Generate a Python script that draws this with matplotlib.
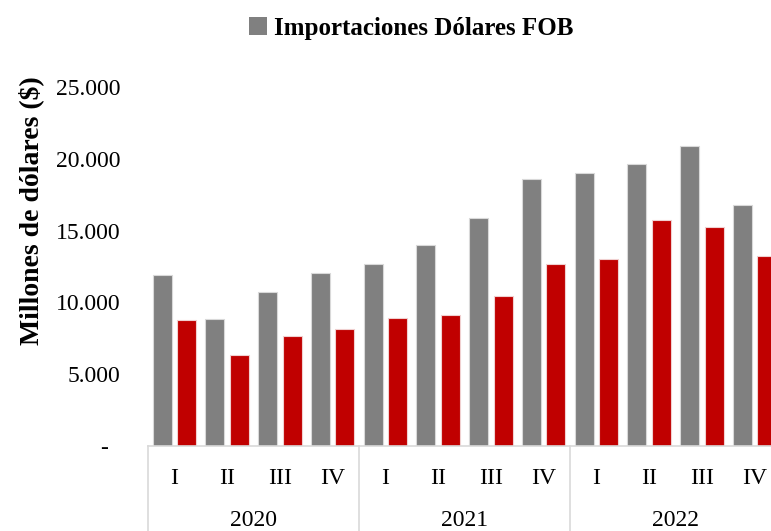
import matplotlib
matplotlib.use("Agg")
import matplotlib.pyplot as plt
from matplotlib.patches import Patch
from matplotlib.lines import Line2D
import numpy as np

years = ["2020", "2021", "2022"]
quarters = ["I", "II", "III", "IV"]
importaciones = [11880, 8850, 10690, 12040, 12660, 13990, 15890, 18590, 18990, 19620, 20910, 16780]
exportaciones = [8740, 6370, 7640, 8180, 8900, 9090, 10480, 12690, 12990, 15710, 15220, 13240]
yticks = [0, 5000, 10000, 15000, 20000, 25000]
ytick_labels = ["-  ", "5.000", "10.000", "15.000", "20.000", "25.000"]

plt.rcParams['font.family'] = ['Liberation Serif', 'DejaVu Serif']

W, H = 771, 531
fig = plt.figure(figsize=(W / 100, H / 100), dpi=100)
ax_left, ax_right, ax_bottom, ax_top = 148, 771, 446, 87
ax = fig.add_axes([ax_left / W, 1 - ax_bottom / H, (ax_right - ax_left) / W, (ax_bottom - ax_top) / H])

n = len(importaciones)
x = np.arange(n)
bw = 0.36
off = 0.23
grey = "#808080"
red = "#C00000"
ax.bar(x - off, importaciones, bw, color=grey, edgecolor="#d9d9d9", linewidth=0.8, zorder=2)
ax.bar(x + off, exportaciones, bw, color=red, edgecolor="#f0d0d0", linewidth=0.8, zorder=2)

cat_px = 52.75
ax.set_xlim(-0.5, -0.5 + (ax_right - ax_left) / cat_px)
ax.set_ylim(0, 25000)
ax.set_yticks(yticks)
ax.set_yticklabels(ytick_labels, fontsize=17)
ax.tick_params(axis='y', length=0, pad=20)
ax.set_xticks([])

for s in ["top", "right", "left"]:
    ax.spines[s].set_visible(False)
ax.spines["bottom"].set_color("#d9d9d9")
ax.spines["bottom"].set_linewidth(1.2)

ax.set_ylabel("Millones de dólares ($)", fontsize=20, fontweight="bold")
ax.yaxis.set_label_coords((44 - ax_left) / (ax_right - ax_left), (ax_bottom - 211) / (ax_bottom - ax_top))

trans = ax.get_xaxis_transform()
ax_h = ax_bottom - ax_top
y_q = -(478 - ax_bottom) / ax_h
y_y = -(520 - ax_bottom) / ax_h
y_end = -(H - ax_bottom) / ax_h
for i in range(n):
    ax.text(i, y_q, quarters[i % 4], transform=trans, ha="center", va="center", fontsize=17)
for j, yr in enumerate(years):
    ax.text(4 * j + 1.5, y_y, yr, transform=trans, ha="center", va="center", fontsize=17)
for b in [-0.5, 3.5, 7.5, 11.5]:
    ax.add_line(Line2D([b, b], [0, y_end], transform=trans, color="#d9d9d9", linewidth=1.2, clip_on=False))

handle = Patch(facecolor=grey, edgecolor="none")
fig.legend(handles=[handle], labels=["Importaciones Dólares FOB"], loc="center",
           bbox_to_anchor=(411.5 / W, 1 - 28 / H), frameon=False,
           prop={"weight": "bold", "size": 18}, handlelength=0.7, handleheight=0.7,
           handletextpad=0.3)

fig.savefig("out.png", dpi=100)
